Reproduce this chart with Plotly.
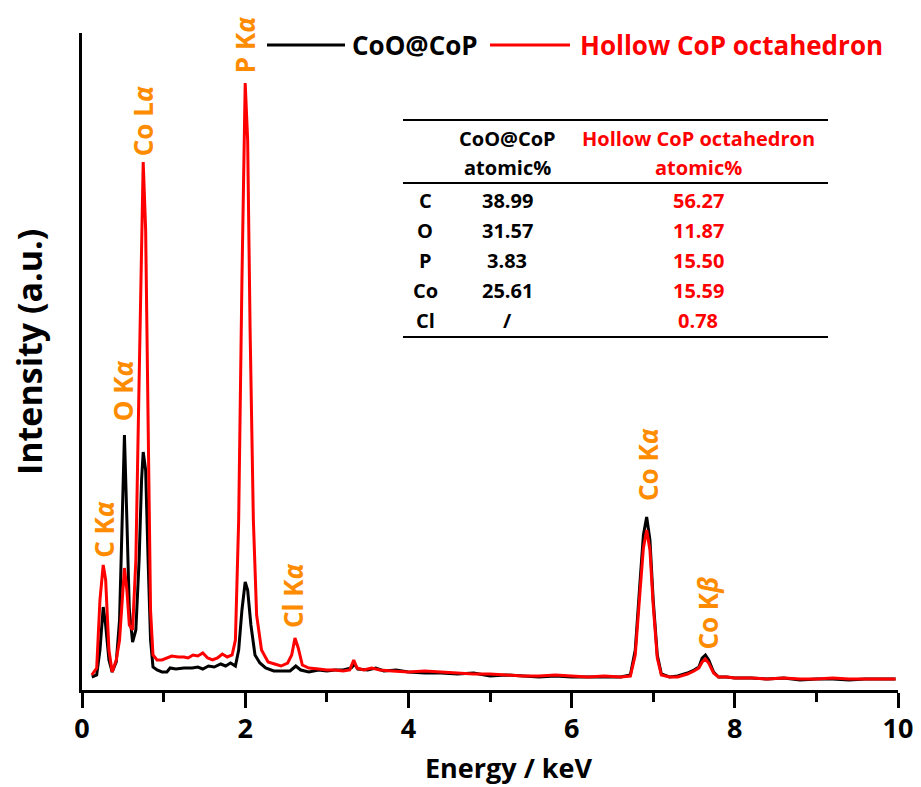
import plotly.graph_objects as go

# ---- EDS spectra (energy in keV, intensity in arbitrary units) ----
energy_coo = [0.12, 0.18, 0.22, 0.26, 0.29, 0.33, 0.37, 0.42, 0.46, 0.49, 0.52, 0.55, 0.58, 0.62,
              0.66, 0.70, 0.73, 0.75, 0.78, 0.81, 0.84, 0.87, 0.92, 0.98, 1.04, 1.08, 1.15, 1.25,
              1.35, 1.42, 1.48, 1.55, 1.62, 1.70, 1.76, 1.82, 1.88, 1.92, 1.96, 2.00, 2.03, 2.07,
              2.12, 2.18, 2.25, 2.35, 2.45, 2.55, 2.62, 2.68, 2.78, 2.90, 3.00, 3.10, 3.20, 3.30,
              3.34, 3.38, 3.50, 3.60, 3.70, 3.85, 4.0, 4.2, 4.4, 4.6, 4.8, 5.0, 5.2, 5.4, 5.6,
              5.8, 6.0, 6.2, 6.4, 6.6, 6.72, 6.78, 6.84, 6.88, 6.92, 6.96, 7.00, 7.05, 7.10, 7.2,
              7.3, 7.42, 7.50, 7.56, 7.60, 7.64, 7.68, 7.74, 7.80, 7.9, 8.0, 8.2, 8.4, 8.6, 8.8,
              9.0, 9.2, 9.4, 9.6, 9.8, 9.97]
intensity_coo = [13, 15, 40, 83, 65, 30, 18, 28, 70, 160, 255, 170, 80, 48,
                 60, 130, 210, 238, 220, 130, 50, 23, 20, 18, 18, 22, 21, 22,
                 22, 23, 21, 24, 23, 26, 24, 27, 24, 40, 80, 108, 100, 65,
                 35, 27, 22, 19, 19, 19, 24, 20, 18, 20, 19, 20, 20, 22,
                 26, 21, 20, 22, 19, 20, 18, 17, 17, 16, 17, 14, 15, 14, 13,
                 14, 13, 13, 13, 13, 15, 40, 110, 155, 173, 150, 90, 35, 16, 13,
                 14, 17, 20, 23, 32, 35, 30, 18, 13, 13, 12, 12, 11, 12, 10,
                 11, 11, 10, 11, 11, 11]

energy_hollow = [0.12, 0.18, 0.22, 0.26, 0.29, 0.33, 0.37, 0.42, 0.46, 0.49, 0.52, 0.55, 0.58, 0.62,
                 0.66, 0.70, 0.73, 0.75, 0.78, 0.81, 0.84, 0.87, 0.92, 0.98, 1.04, 1.10, 1.18, 1.25,
                 1.30, 1.36, 1.42, 1.48, 1.54, 1.60, 1.66, 1.72, 1.78, 1.84, 1.88, 1.92, 1.96, 2.00,
                 2.03, 2.06, 2.10, 2.14, 2.20, 2.28, 2.36, 2.44, 2.52, 2.57, 2.61, 2.65, 2.70, 2.78,
                 2.90, 3.00, 3.10, 3.20, 3.28, 3.33, 3.37, 3.45, 3.55, 3.65, 3.80, 4.0, 4.2, 4.4,
                 4.6, 4.8, 5.0, 5.2, 5.4, 5.6, 5.8, 6.0, 6.2, 6.4, 6.6, 6.72, 6.78, 6.84, 6.88,
                 6.92, 6.96, 7.00, 7.05, 7.10, 7.2, 7.3, 7.42, 7.50, 7.56, 7.60, 7.64, 7.68, 7.74,
                 7.80, 7.9, 8.0, 8.2, 8.4, 8.6, 8.8, 9.0, 9.2, 9.4, 9.6, 9.8, 9.97]
intensity_hollow = [15, 22, 90, 125, 110, 40, 18, 30, 50, 90, 122, 100, 65, 60,
                    130, 310, 470, 528, 460, 240, 80, 35, 30, 30, 32, 34, 33, 33,
                    32, 35, 34, 37, 32, 30, 32, 36, 33, 35, 50, 170, 410, 607,
                    550, 360, 170, 75, 40, 28, 26, 24, 27, 35, 52, 42, 25, 22,
                    21, 20, 20, 19, 20, 30, 22, 20, 22, 20, 19, 18, 19, 18,
                    17, 16, 16, 15, 14, 14, 15, 14, 13, 14, 13, 14, 35, 100, 142,
                    160, 140, 85, 32, 15, 13, 13, 16, 19, 22, 28, 31, 27, 17,
                    13, 13, 12, 12, 11, 12, 11, 11, 12, 11, 11, 11, 11]

# ---- peak assignments ----
peak_labels = ["C K<i>α</i>", "O K<i>α</i>", "Co L<i>α</i>", "P K<i>α</i>",
               "Cl K<i>α</i>", "Co K<i>α</i>", "Co K<i>β</i>"]
peak_energy = [0.26, 0.50, 0.75, 2.00, 2.58, 6.93, 7.66]
peak_label_base = [130, 267, 532, 615, 60, 187, 38]

# ---- composition table (atomic %) ----
elements = ["C", "O", "P", "Co", "Cl"]
atomic_coo = ["38.99", "31.57", "3.83", "25.61", "/"]
atomic_hollow = ["56.27", "11.87", "15.50", "15.59", "0.78"]

series_names = ["CoO@CoP", "Hollow CoP octahedron"]
series_colors = ["#000000", "#FF0000"]

FONT = "Open Sans"
ORANGE = "#FF8C00"
W, H = 921, 787
L, R, T, B = 82, 23, 33, 97


def px(x):
    return (x - L) / (W - L - R)


def py(y):
    return (H - B - y) / (H - T - B)


fig = go.Figure()
fig.add_trace(go.Scatter(x=energy_coo, y=intensity_coo, mode="lines", name=series_names[0],
                         line=dict(color=series_colors[0], width=3)))
fig.add_trace(go.Scatter(x=energy_hollow, y=intensity_hollow, mode="lines", name=series_names[1],
                         line=dict(color=series_colors[1], width=3)))

annotations = []
for lab, e, b in zip(peak_labels, peak_energy, peak_label_base):
    annotations.append(dict(x=e, y=b, xref="x", yref="y", text=lab, textangle=-90,
                            showarrow=False, xanchor="center", yanchor="bottom",
                            font=dict(family=FONT, size=26, color=ORANGE, weight="bold")))

# legend drawn as line samples + labels
shapes = []
legend_items = [(267, 345, 350), (490, 570, 578)]
for (x0, x1, xt), name, col in zip(legend_items, series_names, series_colors):
    shapes.append(dict(type="line", xref="paper", yref="paper", x0=px(x0), x1=px(x1),
                       y0=py(45), y1=py(45), line=dict(color=col, width=3)))
    annotations.append(dict(x=px(xt), y=py(45), xref="paper", yref="paper", text=name,
                            showarrow=False, xanchor="left", yanchor="middle",
                            font=dict(family=FONT, size=26, color=col, weight="bold")))

# composition table
for yy in (120, 183, 337):
    shapes.append(dict(type="line", xref="paper", yref="paper", x0=px(403), x1=px(828),
                       y0=py(yy), y1=py(yy), line=dict(color="black", width=2)))

col_el, col_coo, col_hol = 425, 507, 698
tfont = dict(family=FONT, size=20, weight="bold")
for txt, x, y, c in [(series_names[0], col_coo, 138, "black"), ("atomic%", col_coo, 167, "black"),
                     (series_names[1], col_hol, 138, "red"), ("atomic%", col_hol, 167, "red")]:
    annotations.append(dict(x=px(x), y=py(y), xref="paper", yref="paper", text=txt,
                            showarrow=False, xanchor="center", yanchor="middle",
                            font=dict(tfont, color=c)))
row_y = [200, 230, 260, 290, 320]
for el, a, h, y in zip(elements, atomic_coo, atomic_hollow, row_y):
    for txt, x, c in [(el, col_el, "black"), (a, col_coo, "black"), (h, col_hol, "red")]:
        annotations.append(dict(x=px(x), y=py(y), xref="paper", yref="paper", text=txt,
                                showarrow=False, xanchor="center", yanchor="middle",
                                font=dict(tfont, color=c)))

# axis titles
annotations.append(dict(x=px(509), y=py(768), xref="paper", yref="paper", text="Energy / keV",
                        showarrow=False, xanchor="center", yanchor="middle",
                        font=dict(family=FONT, size=27, color="black", weight="bold")))
annotations.append(dict(x=px(29), y=py(352), xref="paper", yref="paper", text="Intensity (a.u.)",
                        textangle=-90, showarrow=False, xanchor="center", yanchor="middle",
                        font=dict(family=FONT, size=34, color="black", weight="bold")))

fig.update_layout(
    width=W, height=H,
    margin=dict(l=L, r=R, t=T, b=B, autoexpand=False),
    paper_bgcolor="white", plot_bgcolor="white",
    showlegend=False,
    annotations=annotations,
    shapes=shapes,
    xaxis=dict(range=[0, 10], showgrid=False, zeroline=False, showline=True, automargin=False,
               linecolor="black", linewidth=2.5, ticks="outside", ticklen=15, tickwidth=2.5,
               tickcolor="black", tick0=0, dtick=2, ticklabelstandoff=-2,
               tickfont=dict(family=FONT, size=27, color="black", weight="bold"),
               minor=dict(ticks="outside", ticklen=9, tickwidth=2.5, tickcolor="black", dtick=1)),
    yaxis=dict(range=[0, 657], showgrid=False, zeroline=False, showline=True, automargin=False,
               linecolor="black", linewidth=2.5, ticks="", showticklabels=False),
)

fig.write_html("out.html")
